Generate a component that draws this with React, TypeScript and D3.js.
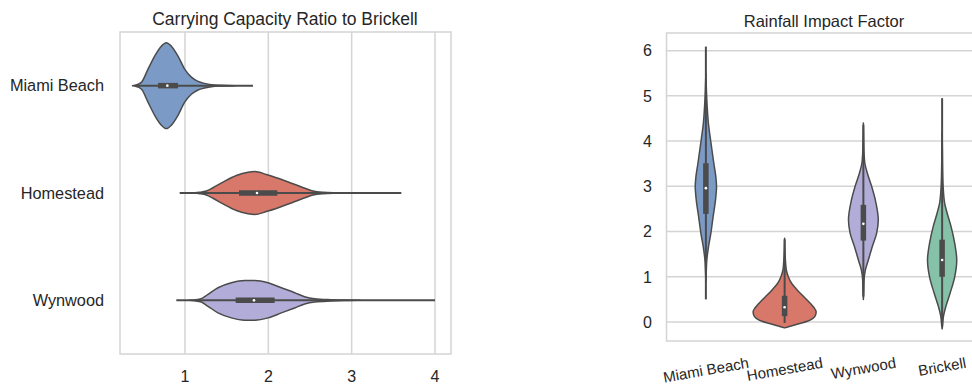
import React, { useEffect, useRef } from 'react';
import * as d3 from 'd3';

// Carrying capacity ratio (horizontal violins)
const ratioCategories = ['Miami Beach', 'Homestead', 'Wynwood'];
const ratioTicks = [1, 2, 3, 4];
// [value, relative density] outline profiles
const ratioDensity: [number, number][][] = [
  [[0.37, 0], [0.4, 0.01], [0.476, 0.077], [0.556, 0.385], [0.636, 0.69], [0.716, 0.92], [0.776, 1.0],
   [0.836, 0.92], [0.916, 0.69], [0.996, 0.385], [1.076, 0.2], [1.156, 0.1], [1.236, 0.053],
   [1.316, 0.023], [1.44, 0.008], [1.6, 0]],
  [[1.1, 0], [1.176, 0.015], [1.256, 0.046], [1.336, 0.122], [1.456, 0.254], [1.616, 0.409], [1.756, 0.485],
   [1.836, 0.501], [1.976, 0.432], [2.136, 0.33], [2.296, 0.215], [2.456, 0.099], [2.536, 0.046],
   [2.656, 0.016], [2.816, 0.005], [3.0, 0]],
  [[1.05, 0], [1.116, 0.01], [1.196, 0.039], [1.276, 0.139], [1.396, 0.293], [1.556, 0.409], [1.716, 0.462],
   [1.836, 0.462], [1.996, 0.409], [2.156, 0.293], [2.316, 0.178], [2.436, 0.085], [2.556, 0.039],
   [2.756, 0.016], [2.916, 0.005], [3.1, 0]],
];
// [whisker low, q1, median, q3, whisker high]
const ratioBoxes: number[][] = [
  [0.4, 0.676, 0.788, 0.916, 1.816],
  [0.936, 1.648, 1.864, 2.108, 3.596],
  [0.896, 1.608, 1.828, 2.076, 4.0],
];

// Rainfall impact factor (vertical violins)
const rainCategories = ['Miami Beach', 'Homestead', 'Wynwood', 'Brickell'];
const rainTicks = [0, 1, 2, 3, 4, 5, 6];
const rainDensity: [number, number][][] = [
  [[0.9, 0], [1.08, 0.01], [1.37, 0.03], [1.67, 0.085], [1.96, 0.158], [2.33, 0.23], [2.7, 0.306],
   [3.0, 0.338], [3.22, 0.315], [3.51, 0.252], [4.03, 0.148], [4.4, 0.079], [4.77, 0.041],
   [5.14, 0.016], [5.5, 0]],
  [[-0.13, 0], [-0.09, 0.2], [-0.04, 0.45], [0.01, 0.7], [0.08, 0.9], [0.17, 0.99], [0.23, 1.0],
   [0.32, 0.93], [0.41, 0.82], [0.56, 0.61], [0.71, 0.4], [0.856, 0.22], [1.0, 0.117], [1.15, 0.054],
   [1.3, 0.032], [1.59, 0.01], [1.85, 0]],
  [[0.5, 0], [0.64, 0.01], [0.93, 0.022], [1.15, 0.063], [1.37, 0.158], [1.67, 0.284], [1.96, 0.42],
   [2.26, 0.473], [2.63, 0.4], [3.0, 0.262], [3.29, 0.126], [3.51, 0.047], [3.73, 0.022],
   [4.03, 0.01], [4.4, 0]],
  [[-0.15, 0], [-0.1, 0.01], [0.12, 0.041], [0.34, 0.117], [0.635, 0.252], [1.0, 0.4], [1.37, 0.464],
   [1.74, 0.4], [2.11, 0.284], [2.41, 0.158], [2.63, 0.079], [3.0, 0.032], [3.37, 0.016],
   [3.73, 0.01], [4.2, 0]],
];
const rainBoxes: number[][] = [
  [0.5, 2.39, 2.96, 3.51, 6.09],
  [-0.02, 0.13, 0.325, 0.58, 1.83],
  [0.56, 1.8, 2.17, 2.59, 4.36],
  [-0.1, 1.0, 1.37, 1.82, 4.95],
];

const palette = ['#7b9bc6', '#d7786a', '#b2acd8', '#85c2a9'];
const outline = '#4b4b4b';
const gridColor = '#d4d4d4';
const textColor = '#262626';
const font = '"Liberation Sans", Arial, Helvetica, sans-serif';

export default function App() {
  const ref = useRef<SVGSVGElement | null>(null);

  useEffect(() => {
    const svg = d3.select(ref.current);
    svg.selectAll('*').remove();

    // ---------- left panel ----------
    const L = { left: 120, right: 451, top: 32, bottom: 354 };
    const x = d3.scaleLinear().domain([0.22, 4.192]).range([L.left, L.right]);
    const y = d3.scaleBand().domain(ratioCategories).range([L.top, L.bottom]).padding(0);
    const hwL = d3.scaleLinear().domain([0, 1]).range([0, y.bandwidth() * 0.4]);

    const gl = svg.append('g');
    gl.selectAll('line.grid').data(ratioTicks).join('line')
      .attr('x1', d => x(d)).attr('x2', d => x(d))
      .attr('y1', L.top).attr('y2', L.bottom)
      .attr('stroke', gridColor).attr('stroke-width', 1.5);
    gl.append('rect')
      .attr('x', L.left).attr('y', L.top)
      .attr('width', L.right - L.left).attr('height', L.bottom - L.top)
      .attr('fill', 'none').attr('stroke', gridColor).attr('stroke-width', 1.5);

    ratioCategories.forEach((cat, i) => {
      const cy = (y(cat) as number) + y.bandwidth() / 2;
      const area = d3.area<[number, number]>()
        .x(d => x(d[0]))
        .y0(d => cy - hwL(d[1]))
        .y1(d => cy + hwL(d[1]))
        .curve(d3.curveMonotoneX);
      gl.append('path').attr('d', area(ratioDensity[i]))
        .attr('fill', palette[i]).attr('stroke', outline).attr('stroke-width', 1.5)
        .attr('stroke-linejoin', 'round');
      const [lo, q1, med, q3, hi] = ratioBoxes[i];
      gl.append('line').attr('x1', x(lo)).attr('x2', x(hi)).attr('y1', cy).attr('y2', cy)
        .attr('stroke', outline).attr('stroke-width', 2);
      gl.append('line').attr('x1', x(q1)).attr('x2', x(q3)).attr('y1', cy).attr('y2', cy)
        .attr('stroke', outline).attr('stroke-width', 5.5);
      gl.append('circle').attr('cx', x(med)).attr('cy', cy).attr('r', 1.3).attr('fill', '#ffffff');
    });

    gl.selectAll('text.xt').data(ratioTicks).join('text')
      .attr('x', d => x(d)).attr('y', 382)
      .attr('text-anchor', 'middle').attr('font-size', 16).attr('font-family', font)
      .attr('fill', textColor).text(d => String(d));
    gl.selectAll('text.yt').data(ratioCategories).join('text')
      .attr('x', 104).attr('y', d => (y(d) as number) + y.bandwidth() / 2 + 5.8)
      .attr('text-anchor', 'end').attr('font-size', 16.3).attr('font-family', font)
      .attr('fill', textColor).text(d => d);
    gl.append('text').attr('x', 285).attr('y', 25)
      .attr('text-anchor', 'middle').attr('font-size', 17.5).attr('font-family', font)
      .attr('fill', textColor).text('Carrying Capacity Ratio to Brickell');

    // ---------- right panel ----------
    const R = { left: 666.5, right: 981.5, top: 33, bottom: 341 };
    const yr = d3.scaleLinear().domain([-0.42, 6.39]).range([R.bottom, R.top]);
    const xr = d3.scaleBand().domain(rainCategories).range([R.left, R.right]).padding(0);
    const hwR = d3.scaleLinear().domain([0, 1]).range([0, xr.bandwidth() * 0.4]);

    const gr = svg.append('g');
    gr.selectAll('line.grid').data(rainTicks).join('line')
      .attr('x1', R.left).attr('x2', R.right)
      .attr('y1', d => yr(d)).attr('y2', d => yr(d))
      .attr('stroke', gridColor).attr('stroke-width', 1.5);
    gr.append('rect')
      .attr('x', R.left).attr('y', R.top)
      .attr('width', R.right - R.left).attr('height', R.bottom - R.top)
      .attr('fill', 'none').attr('stroke', gridColor).attr('stroke-width', 1.5);

    rainCategories.forEach((cat, i) => {
      const cx = (xr(cat) as number) + xr.bandwidth() / 2;
      const area = d3.area<[number, number]>()
        .y(d => yr(d[0]))
        .x0(d => cx - hwR(d[1]))
        .x1(d => cx + hwR(d[1]))
        .curve(d3.curveMonotoneY);
      gr.append('path').attr('d', area(rainDensity[i]))
        .attr('fill', palette[i]).attr('stroke', outline).attr('stroke-width', 1.5)
        .attr('stroke-linejoin', 'round');
      const [lo, q1, med, q3, hi] = rainBoxes[i];
      gr.append('line').attr('y1', yr(lo)).attr('y2', yr(hi)).attr('x1', cx).attr('x2', cx)
        .attr('stroke', outline).attr('stroke-width', 2);
      gr.append('line').attr('y1', yr(q1)).attr('y2', yr(q3)).attr('x1', cx).attr('x2', cx)
        .attr('stroke', outline).attr('stroke-width', 5.5);
      gr.append('circle').attr('cy', yr(med)).attr('cx', cx).attr('r', 1.3).attr('fill', '#ffffff');
    });

    gr.selectAll('text.yt').data(rainTicks).join('text')
      .attr('x', 652).attr('y', d => yr(d) + 5.8)
      .attr('text-anchor', 'end').attr('font-size', 16).attr('font-family', font)
      .attr('fill', textColor).text(d => String(d));

    // rotated category labels, top of rotated box aligned under the axis
    const angle = 10;
    const rad = (angle * Math.PI) / 180;
    const labelSize = 15;
    rainCategories.forEach(cat => {
      const cx = (xr(cat) as number) + xr.bandwidth() / 2;
      const t = gr.append('text')
        .attr('text-anchor', 'middle').attr('dominant-baseline', 'central')
        .attr('font-size', labelSize).attr('font-family', font).attr('fill', textColor).text(cat);
      const w = (t.node() as SVGTextElement).getComputedTextLength();
      const h = labelSize * 1.05;
      const H = w * Math.sin(rad) + h * Math.cos(rad);
      const cy = 354.5 + H / 2;
      t.attr('x', cx).attr('y', cy).attr('transform', `rotate(${-angle},${cx},${cy})`);
    });

    gr.append('text').attr('x', 824).attr('y', 27)
      .attr('text-anchor', 'middle').attr('font-size', 16.5).attr('font-family', font)
      .attr('fill', textColor).text('Rainfall Impact Factor');
  }, []);

  return (
    <svg
      ref={ref}
      width={972}
      height={387}
      style={{ position: 'absolute', left: 0, top: 0, background: '#ffffff' }}
    />
  );
}
